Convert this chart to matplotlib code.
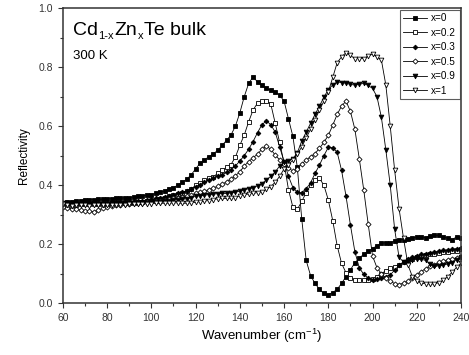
import matplotlib
matplotlib.use("Agg")
import matplotlib.pyplot as plt
from matplotlib.ticker import MultipleLocator

plt.rcParams['font.family'] = ['Liberation Sans', 'DejaVu Sans']
plt.rcParams['mathtext.fontset'] = 'custom'
plt.rcParams['mathtext.rm'] = 'Liberation Sans'
plt.rcParams['mathtext.it'] = 'Liberation Sans'

wavenumber = [60, 62, 64, 66, 68, 70, 72, 74, 76, 78,
              80, 82, 84, 86, 88, 90, 92, 94, 96, 98,
              100, 102, 104, 106, 108, 110, 112, 114, 116, 118,
              120, 122, 124, 126, 128, 130, 132, 134, 136, 138,
              140, 142, 144, 146, 148, 150, 152, 154, 156, 158,
              160, 162, 164, 166, 168, 170, 172, 174, 176, 178,
              180, 182, 184, 186, 188, 190, 192, 194, 196, 198,
              200, 202, 204, 206, 208, 210, 212, 214, 216, 218,
              220, 222, 224, 226, 228, 230, 232, 234, 236, 238,
              240]

r_x0 = [0.340, 0.342, 0.344, 0.346, 0.347, 0.349, 0.350, 0.351, 0.352, 0.352,
        0.353, 0.354, 0.355, 0.356, 0.357, 0.358, 0.360, 0.362, 0.364, 0.366,
        0.368, 0.372, 0.376, 0.380, 0.386, 0.392, 0.400, 0.410, 0.420, 0.435,
        0.455, 0.474, 0.485, 0.497, 0.506, 0.518, 0.535, 0.552, 0.570, 0.600,
        0.645, 0.700, 0.745, 0.767, 0.750, 0.738, 0.728, 0.722, 0.716, 0.705,
        0.685, 0.625, 0.565, 0.460, 0.285, 0.145, 0.093, 0.067, 0.047, 0.033,
        0.029, 0.036, 0.047, 0.067, 0.090, 0.113, 0.137, 0.152, 0.166, 0.176,
        0.185, 0.195, 0.203, 0.205, 0.205, 0.210, 0.215, 0.215, 0.218, 0.220,
        0.225, 0.225, 0.222, 0.228, 0.230, 0.230, 0.225, 0.220, 0.215, 0.225,
        0.220]

r_x02 = [0.335, 0.334, 0.333, 0.334, 0.335, 0.336, 0.335, 0.336, 0.337, 0.336,
         0.336, 0.337, 0.338, 0.338, 0.339, 0.340, 0.340, 0.342, 0.344, 0.346,
         0.348, 0.351, 0.354, 0.358, 0.362, 0.366, 0.370, 0.375, 0.380, 0.386,
         0.400, 0.408, 0.416, 0.423, 0.428, 0.440, 0.450, 0.460, 0.470, 0.495,
         0.535, 0.570, 0.615, 0.655, 0.678, 0.686, 0.686, 0.675, 0.610, 0.545,
         0.475, 0.385, 0.325, 0.318, 0.345, 0.375, 0.400, 0.418, 0.423, 0.400,
         0.350, 0.280, 0.195, 0.135, 0.103, 0.085, 0.080, 0.078, 0.077, 0.078,
         0.082, 0.090, 0.100, 0.110, 0.118, 0.124, 0.130, 0.138, 0.145, 0.150,
         0.156, 0.160, 0.163, 0.166, 0.168, 0.170, 0.172, 0.174, 0.176, 0.178,
         0.182]

r_x03 = [0.340, 0.338, 0.336, 0.337, 0.338, 0.339, 0.340, 0.340, 0.341, 0.340,
         0.341, 0.342, 0.342, 0.343, 0.343, 0.344, 0.345, 0.346, 0.348, 0.350,
         0.352, 0.355, 0.358, 0.361, 0.364, 0.368, 0.372, 0.376, 0.381, 0.387,
         0.395, 0.402, 0.410, 0.417, 0.423, 0.430, 0.436, 0.443, 0.452, 0.465,
         0.482, 0.500, 0.522, 0.548, 0.578, 0.605, 0.618, 0.605, 0.580, 0.530,
         0.480, 0.430, 0.392, 0.376, 0.375, 0.388, 0.408, 0.440, 0.468, 0.500,
         0.528, 0.527, 0.512, 0.450, 0.363, 0.265, 0.175, 0.120, 0.098, 0.085,
         0.080, 0.082, 0.085, 0.090, 0.096, 0.112, 0.128, 0.140, 0.150, 0.157,
         0.161, 0.165, 0.168, 0.171, 0.174, 0.177, 0.179, 0.181, 0.183, 0.185,
         0.187]

r_x05 = [0.326, 0.322, 0.320, 0.318, 0.316, 0.313, 0.312, 0.310, 0.315, 0.322,
         0.326, 0.329, 0.332, 0.334, 0.336, 0.337, 0.338, 0.340, 0.341, 0.342,
         0.344, 0.346, 0.348, 0.350, 0.352, 0.355, 0.358, 0.361, 0.364, 0.367,
         0.372, 0.376, 0.380, 0.385, 0.390, 0.396, 0.403, 0.411, 0.420, 0.432,
         0.445, 0.465, 0.480, 0.493, 0.505, 0.522, 0.532, 0.522, 0.502, 0.486,
         0.472, 0.458, 0.448, 0.455, 0.472, 0.485, 0.496, 0.507, 0.525, 0.545,
         0.569, 0.603, 0.640, 0.668, 0.685, 0.650, 0.590, 0.490, 0.385, 0.270,
         0.160, 0.120, 0.100, 0.085, 0.075, 0.066, 0.063, 0.068, 0.075, 0.085,
         0.097, 0.107, 0.117, 0.125, 0.131, 0.138, 0.143, 0.147, 0.150, 0.154,
         0.157]

r_x09 = [0.338, 0.340, 0.338, 0.336, 0.337, 0.338, 0.336, 0.338, 0.337, 0.336,
         0.337, 0.338, 0.337, 0.336, 0.338, 0.339, 0.338, 0.340, 0.339, 0.341,
         0.342, 0.343, 0.344, 0.346, 0.347, 0.349, 0.350, 0.352, 0.354, 0.358,
         0.362, 0.364, 0.366, 0.368, 0.370, 0.371, 0.372, 0.372, 0.374, 0.376,
         0.380, 0.385, 0.388, 0.392, 0.398, 0.405, 0.418, 0.430, 0.445, 0.465,
         0.478, 0.482, 0.490, 0.510, 0.550, 0.580, 0.610, 0.640, 0.668, 0.698,
         0.724, 0.740, 0.750, 0.748, 0.745, 0.742, 0.739, 0.742, 0.745, 0.738,
         0.728, 0.700, 0.630, 0.520, 0.400, 0.250, 0.155, 0.140, 0.142, 0.148,
         0.150, 0.149, 0.145, 0.132, 0.125, 0.127, 0.129, 0.133, 0.137, 0.148,
         0.155]

r_x1 = [0.335, 0.333, 0.330, 0.332, 0.333, 0.332, 0.331, 0.333, 0.332, 0.333,
        0.332, 0.333, 0.333, 0.334, 0.334, 0.335, 0.335, 0.336, 0.336, 0.337,
        0.337, 0.338, 0.338, 0.339, 0.339, 0.340, 0.340, 0.338, 0.339, 0.340,
        0.342, 0.344, 0.346, 0.348, 0.351, 0.354, 0.355, 0.355, 0.356, 0.358,
        0.364, 0.368, 0.370, 0.372, 0.375, 0.378, 0.386, 0.395, 0.410, 0.430,
        0.455, 0.470, 0.485, 0.505, 0.530, 0.560, 0.590, 0.622, 0.654, 0.685,
        0.716, 0.765, 0.815, 0.835, 0.849, 0.840, 0.829, 0.829, 0.829, 0.838,
        0.844, 0.835, 0.824, 0.740, 0.600, 0.450, 0.320, 0.220, 0.130, 0.090,
        0.075, 0.068, 0.066, 0.065, 0.065, 0.070, 0.078, 0.090, 0.105, 0.122,
        0.135]

labels = ['x=0', 'x=0.2', 'x=0.3', 'x=0.5', 'x=0.9', 'x=1']
series = [r_x0, r_x02, r_x03, r_x05, r_x09, r_x1]
markers = ['s', 's', 'D', 'D', 'v', 'v']
filled = [True, False, True, False, True, False]
msizes = [3.0, 3.0, 2.4, 2.6, 3.4, 3.4]

fig = plt.figure(figsize=(4.69, 3.55), dpi=100)
ax = fig.add_axes([0.134, 0.146, 0.849, 0.831])

for y, lab, m, f, ms in zip(series, labels, markers, filled, msizes):
    ax.plot(wavenumber, y, color='black', lw=0.6, marker=m, ms=ms,
            markerfacecolor='black' if f else 'white',
            markeredgecolor='black', markeredgewidth=0.6, label=lab)

ax.set_xlim(60, 240)
ax.set_ylim(0.0, 1.0)
ax.xaxis.set_major_locator(MultipleLocator(20))
ax.xaxis.set_minor_locator(MultipleLocator(10))
ax.yaxis.set_major_locator(MultipleLocator(0.2))
ax.yaxis.set_minor_locator(MultipleLocator(0.1))
ax.yaxis.set_major_formatter(matplotlib.ticker.FormatStrFormatter('%.1f'))
ax.tick_params(which='both', direction='out', top=False, right=False,
               colors='#333333', labelsize=7.5, width=0.8)
ax.tick_params(which='major', length=3.5)
ax.tick_params(which='minor', length=2.5)
for s in ax.spines.values():
    s.set_linewidth(1.1)
    s.set_color('#333333')

ax.set_xlabel('Wavenumber (cm$^{-1}$)', fontsize=9.5, labelpad=3)
ax.set_ylabel('Reflectivity', fontsize=8.5, labelpad=6)

# Title: Cd(1-x) Zn(x) Te bulk, built from pieces so the subscript keeps a hyphen
big = 14
small = 8
t1 = ax.text(0.025, 0.908, 'Cd', transform=ax.transAxes, fontsize=big,
             va='baseline', ha='left')
t2 = ax.annotate('1-x', xy=(1.0, 0.0), xycoords=t1, xytext=(0.3, 6.0),
                 textcoords='offset points', fontsize=small, va='top', ha='left')
t3 = ax.annotate('Zn', xy=(1.0, 0.0), xycoords=(t2, t1), xytext=(0.3, 0),
                 textcoords='offset points', fontsize=big, va='bottom', ha='left')
t4 = ax.annotate('x', xy=(1.0, 0.0), xycoords=t3, xytext=(0.3, 6.0),
                 textcoords='offset points', fontsize=small, va='top', ha='left')
t5 = ax.annotate('Te bulk', xy=(1.0, 0.0), xycoords=(t4, t1), xytext=(0.6, 0),
                 textcoords='offset points', fontsize=big, va='bottom', ha='left')
ax.text(0.025, 0.858, '300 K', transform=ax.transAxes, fontsize=9.5,
        va='top', ha='left')

leg = ax.legend(loc='upper right', fontsize=7.2, frameon=True, fancybox=False,
                edgecolor='#333333', borderaxespad=0.15, handlelength=2.4,
                handletextpad=0.4, labelspacing=0.45, borderpad=0.35)
leg.get_frame().set_linewidth(0.8)

fig.savefig('out.png', dpi=100)
